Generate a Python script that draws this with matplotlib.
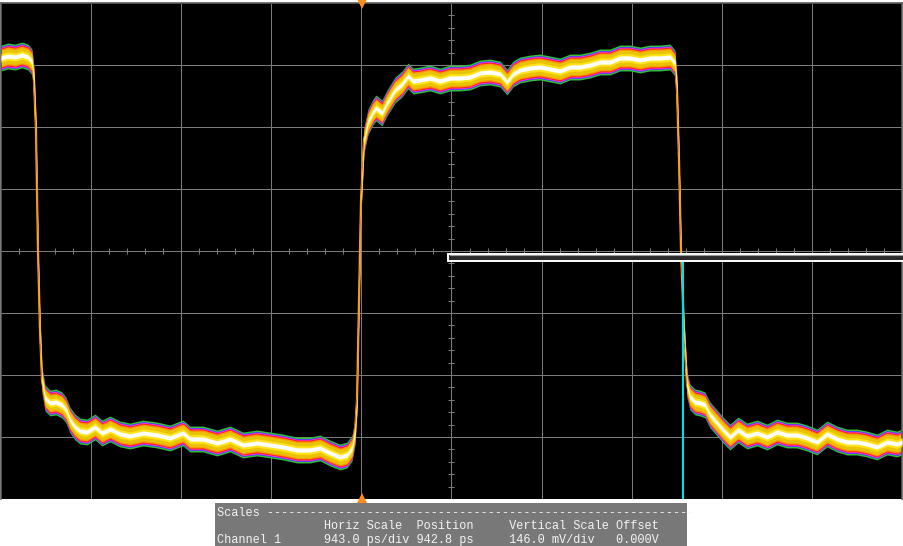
import matplotlib
matplotlib.use("Agg")
import matplotlib.pyplot as plt
from matplotlib.patches import Rectangle
import numpy as np

# ---- scope settings ----
h_scale_ps = 943.0      # ps/div
v_scale_mV = 146.0      # mV/div
n_hdiv, n_vdiv = 10, 8
trigger_t_ns = 3.778
cursor_t_ns = 7.14

# ---- trace (time in ns from left of screen, voltage in mV) ----
t_ns = [0.000, 0.073, 0.147, 0.220, 0.283, 0.324, 0.345, 0.366, 0.387, 0.408,
        0.429, 0.461, 0.513, 0.576, 0.638, 0.680, 0.722, 0.774, 0.827, 0.900,
        0.984, 1.057, 1.141, 1.245, 1.350, 1.486, 1.633, 1.769, 1.873, 1.905,
        1.978, 2.114, 2.261, 2.397, 2.533, 2.679, 2.815, 2.951, 3.098, 3.234,
        3.339, 3.443, 3.548, 3.621, 3.674, 3.705, 3.726, 3.747, 3.768, 3.799,
        3.841, 3.893, 3.925, 3.987, 4.040, 4.124, 4.197, 4.260, 4.312, 4.385,
        4.490, 4.594, 4.699, 4.804, 4.909, 5.013, 5.118, 5.223, 5.296, 5.359,
        5.432, 5.537, 5.641, 5.746, 5.851, 5.955, 6.060, 6.165, 6.269, 6.374,
        6.478, 6.583, 6.688, 6.792, 6.897, 7.002, 7.054, 7.075, 7.096, 7.117,
        7.148, 7.180, 7.211, 7.263, 7.316, 7.368, 7.421, 7.494, 7.557, 7.630,
        7.714, 7.808, 7.912, 8.017, 8.122, 8.226, 8.331, 8.436, 8.540, 8.645,
        8.750, 8.854, 8.959, 9.063, 9.168, 9.273, 9.377, 9.430]
v_mV = [454.5, 459.2, 456.8, 461.5, 456.8, 445.1, 402.7, 284.9, 2.4, -186.0,
        -303.8, -346.2, -357.9, -355.6, -362.6, -374.4, -398.0, -414.4, -423.9, -426.2,
        -414.4, -428.6, -419.2, -430.9, -435.6, -428.6, -433.3, -440.3, -430.9, -428.6,
        -442.7, -442.7, -452.1, -442.7, -456.8, -452.1, -456.8, -461.5, -468.6, -468.6,
        -463.9, -475.7, -485.1, -480.4, -463.9, -426.2, -350.9, -115.4, 120.1, 261.4,
        303.8, 327.3, 336.7, 325.0, 348.5, 379.1, 393.3, 412.1, 400.3, 402.7,
        407.4, 400.3, 407.4, 407.4, 409.7, 419.2, 421.5, 416.8, 398.0, 416.8,
        426.2, 430.9, 433.3, 428.6, 423.9, 433.3, 433.3, 438.0, 445.1, 445.1,
        454.5, 454.5, 449.8, 454.5, 454.5, 456.8, 442.7, 379.1, 214.3, 2.4,
        -186.0, -315.5, -343.8, -355.6, -357.9, -362.6, -386.2, -405.0, -421.5, -438.0,
        -421.5, -435.6, -428.6, -438.0, -426.2, -433.3, -433.3, -440.3, -449.8, -430.9,
        -442.7, -449.8, -449.8, -454.5, -461.5, -449.8, -454.5, -449.8]

# ---- panel text ----
panel_lines = [
    "Scales " + "-" * 60,
    " " * 15 + "Horiz Scale  Position     Vertical Scale Offset",
    "Channel 1      943.0 ps/div 942.8 ps     146.0 mV/div   0.000V",
]

W, H = 904, 546
fig = plt.figure(figsize=(W / 100, H / 100), dpi=100, facecolor="white")
ax = fig.add_axes([1 / W, 47 / H, 901 / W, 496 / H])
ax.set_facecolor("black")

t_div = h_scale_ps / 1000.0
t_max = n_hdiv * t_div
v_max = n_vdiv / 2 * v_scale_mV
ax.set_xlim(0, t_max)
ax.set_ylim(-v_max, v_max)
ax.set_xticks([])
ax.set_yticks([])
for s in ["top", "left", "right"]:
    ax.spines[s].set_color("#5e5e5e")
    ax.spines[s].set_linewidth(1.2)
ax.spines["bottom"].set_visible(False)

gcol = "#7c7c7c"
for k in range(1, n_hdiv):
    ax.axvline(k * t_div, color=gcol, lw=0.72, ls=(0, (1, 1)), antialiased=False, zorder=0.5)
for k in range(-n_vdiv // 2 + 1, n_vdiv // 2):
    ax.axhline(k * v_scale_mV, color=gcol, lw=0.72, ls=(0, (1, 1)), antialiased=False, zorder=0.5)

# minor ticks on center crosshair
tx = np.arange(1, n_hdiv * 5) * t_div / 5
ax.plot(tx, np.zeros_like(tx), ls="none", marker="|", ms=3.8, mew=0.75, color=gcol, zorder=0.6)
vy = np.arange(-n_vdiv // 2 * 5 + 1, n_vdiv // 2 * 5) * v_scale_mV / 5
ax.plot(np.full_like(vy, t_max / 2), vy, ls="none", marker="_", ms=4.5, mew=0.75, color=gcol, zorder=0.6)

# persistence-style trace
t = np.array(t_ns)
v = np.array(v_mV)
ax.plot(t, v, color="#ff8a00", lw=1.6, zorder=1, solid_joinstyle="round")
layers = [("#33c23a", 30.5), ("#2a3cff", 27), ("#ff30ff", 25.4), ("#ff2020", 23.5),
          ("#ff9a00", 21), ("#e8c400", 17.5), ("#ffe21a", 10), ("#ffffff", 5)]
for i, (c, hw) in enumerate(layers):
    ax.fill_between(t, v - hw, v + hw, color=c, lw=0, zorder=2 + i * 0.1)
ax.plot(t, v, color="#ffb000", lw=0.9, zorder=1.9)

# reference level indicator (white bar) and cursor
ax.add_patch(Rectangle((4.678, -23.5), 9.46 - 4.678, 16.4, facecolor="#2a2a2a",
                       edgecolor="white", lw=1.4, clip_on=False, zorder=5))
ax.plot([4.70, 9.46], [-10.5, -10.5], color="#9a9a9a", lw=0.8, clip_on=False, zorder=6)
ax.plot([cursor_t_ns, cursor_t_ns], [-v_max, -26], color="#00e0e8", lw=1.5, zorder=4)

# trigger markers
ax.plot([trigger_t_ns], [v_max - 2], marker="v", ms=7, color="#ff8c1a", mew=0, clip_on=False, zorder=7)
ax.plot([trigger_t_ns], [-v_max + 3], marker="^", ms=7, color="#ff8c1a", mew=0, clip_on=False, zorder=7)

# bottom scale panel
pax = fig.add_axes([215 / W, 0, 472 / W, 43 / H])
pax.set_facecolor("#787878")
pax.set_xticks([]); pax.set_yticks([])
for s in pax.spines.values():
    s.set_visible(False)
ys = [(546 - 513) / 43, (546 - 526) / 43, (546 - 540) / 43]
for line, y in zip(panel_lines, ys):
    pax.text(2 / 472, y, line, transform=pax.transAxes, ha="left", va="center",
             family="Liberation Mono", fontsize=8.55, color="#f4f4f4")

fig.savefig("out.png", dpi=100, facecolor="white")
